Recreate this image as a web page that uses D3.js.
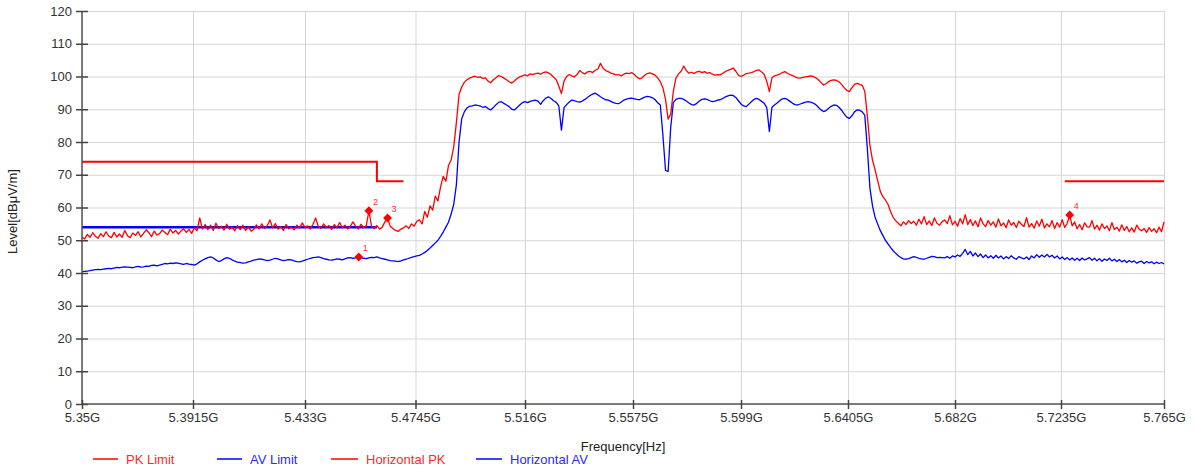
<!DOCTYPE html>
<html>
<head>
<meta charset="utf-8">
<script src="https://cdn.jsdelivr.net/npm/d3@7"></script>
<style>
  html, body { margin: 0; padding: 0; background: #fff; }
  svg { display: block; font-family: "Liberation Sans", Arial, sans-serif; }
</style>
</head>
<body>
<svg id="chart" width="1195" height="468"></svg>
<script>
// ---------------- DATA ----------------
const xTickFreqGHz = [5.35, 5.3915, 5.433, 5.4745, 5.516, 5.5575, 5.599, 5.6405, 5.682, 5.7235, 5.765];
const xTickLabels = ["5.35G", "5.3915G", "5.433G", "5.4745G", "5.516G", "5.5575G", "5.599G", "5.6405G", "5.682G", "5.7235G", "5.765G"];
const yTickValues = [0, 10, 20, 30, 40, 50, 60, 70, 80, 90, 100, 110, 120];

const seriesNames = ["PK Limit", "AV Limit", "Horizontal PK", "Horizontal AV"];
const seriesColors = ["#ff0000", "#0000ff", "#ff0000", "#0000ff"];

// limit lines (null = gap)
const pkLimitFreqGHz = [5.35, 5.46, 5.46, 5.47, null, 5.725, 5.765];
const pkLimitLevel   = [74, 74, 68, 68, null, 68, 68];
const avLimitFreqGHz = [5.35, 5.46];
const avLimitLevel   = [54, 54];

// sweep: 5.350 GHz .. 5.765 GHz, 1 MHz per point
const sweepStartGHz = 5.35;
const sweepStepGHz = 0.001;

const pkLevel = [
  51.0, 50.4, 51.8, 50.9, 52.3, 51.2, 50.6, 52.0, 51.1, 52.6,
  51.3, 50.8, 52.4, 51.0, 51.9, 50.9, 53.0, 51.4, 50.8, 52.2,
  51.5, 52.6, 51.0, 52.1, 53.2, 52.3, 51.1, 52.8, 51.6,
  52.0, 53.1, 52.4, 51.7, 53.4, 52.2, 53.0, 51.9, 52.8, 53.5,
  52.4, 53.3, 52.1, 53.8, 52.9, 56.8, 53.4, 54.8, 53.2, 54.6,
  53.0, 55.2, 53.6, 54.3, 53.1, 54.9, 53.4, 54.0, 52.9, 54.5,
  53.2, 54.6, 53.0, 54.1, 52.8, 53.3, 54.7, 53.5, 55.0,
  53.6, 54.4, 56.2, 53.8, 55.1, 53.4, 54.2, 53.0, 54.8, 53.5,
  54.0, 53.2, 54.6, 53.7, 55.3, 53.9, 54.4, 53.4, 54.9, 56.8,
  54.2, 53.6, 55.0, 53.9, 54.5, 53.3, 54.8, 53.8, 55.4, 53.9,
  54.6, 53.5, 54.2, 55.6, 54.3, 53.4, 54.9, 53.9, 54.4,
  59.0, 54.2, 53.6, 54.5, 53.4, 54.0, 55.6, 56.8, 54.3, 53.6,
  53.0, 52.7, 53.4, 53.8, 54.4, 53.6, 55.0, 54.3, 55.8,
  56.2, 55.0, 58.8, 57.0, 60.5, 59.2, 63.5, 62.0, 66.3, 69.5,
  68.0, 72.8, 74.5, 78.6, 86.0, 94.5, 96.8, 98.2, 99.0, 99.5,
  99.8, 100.1, 99.7, 99.9, 99.4, 99.6, 98.6, 98.1, 99.0, 99.6,
  100.3, 100.0, 99.5, 99.0, 98.4, 98.0, 98.6, 99.4, 99.9, 100.2,
  100.5, 100.2, 100.8, 100.6, 100.9, 101.0, 100.7, 101.2, 101.4, 101.1,
  100.6, 99.8, 99.0, 97.0, 94.8, 98.6, 100.0, 100.6, 100.2, 99.9,
  100.6, 101.8, 101.2, 100.8, 101.4, 101.6, 101.2, 101.9, 102.3, 104.0,
  102.5, 101.8, 101.5, 101.0, 100.8, 100.5, 100.6, 100.2, 100.7, 101.0,
  100.9, 101.2, 100.6, 99.8, 99.3, 99.6, 100.4, 100.9, 101.1, 100.8,
  100.4, 99.5, 98.4, 96.5, 93.0, 87.0, 88.5, 95.5, 99.5, 100.8,
  101.6, 103.2, 101.8, 101.0, 101.3, 100.9, 101.4, 101.6, 101.2, 101.5,
  101.0, 101.2, 100.7, 100.4, 100.6, 100.5, 101.0, 101.5, 101.9, 102.2,
  102.6, 101.6, 100.4, 100.0, 100.4, 100.9, 101.0, 101.2, 101.5, 101.9,
  102.0, 101.4, 100.6, 98.5, 95.4, 99.6, 100.2, 100.4, 100.7, 101.2,
  101.5, 101.0, 100.6, 100.3, 99.9, 99.6, 99.5, 99.7, 99.9, 100.0,
  100.2, 100.0, 99.6, 99.0, 98.2, 97.4, 97.8, 98.5, 98.8, 99.0,
  98.8, 98.4, 97.6, 96.6, 95.8, 95.4, 96.5, 97.6, 97.9, 97.6,
  97.3, 95.5, 88.0, 79.0, 74.5, 71.5, 68.2, 65.0, 63.3, 62.3,
  61.0, 58.8, 57.0, 56.0, 55.2, 54.4, 55.6, 54.8, 56.0, 55.1,
  55.8, 54.6, 56.4, 55.0, 57.2, 54.8, 55.9, 54.5, 56.8, 55.2,
  54.6, 55.7, 56.2, 55.1, 57.5, 54.7, 55.8, 54.3, 56.6, 55.0, 57.8,
  54.8, 56.3, 54.5, 55.9, 54.1, 56.8, 55.0, 54.2, 56.0, 54.6,
  55.6, 54.0, 56.5, 54.4, 55.3, 53.8, 56.2, 54.6, 55.4, 53.9,
  55.8, 54.9, 54.2, 56.9, 54.0, 55.1, 53.7, 55.9, 54.3, 56.4, 53.8,
  55.0, 54.1, 56.0, 53.6, 55.4, 54.0, 56.3, 53.9, 55.2, 57.7,
  54.4, 55.6, 53.5, 54.8, 53.2, 55.3, 54.1, 54.0, 56.0, 53.4, 54.6,
  53.1, 55.0, 53.6, 54.4, 52.9, 55.4, 53.3, 54.0, 52.8, 54.7,
  53.0, 54.2, 52.6, 53.8, 52.5, 54.6, 53.4, 52.9, 53.6, 52.4, 53.9,
  52.7, 53.5, 52.3, 54.0, 52.6, 55.6
];

const avLevel = [
  40.4, 40.5, 40.6, 40.7, 40.9, 41.0, 41.1, 41.0, 41.2, 41.3,
  41.4, 41.3, 41.5, 41.7, 41.6, 41.8, 41.9, 41.8, 41.7, 41.6,
  41.9, 42.0, 41.8, 41.9, 42.1, 42.0, 42.3, 42.4, 42.2,
  42.4, 42.6, 42.9, 42.8, 43.0, 42.9, 43.1, 43.0, 42.8, 42.6,
  42.9, 42.7, 42.6, 42.4, 42.8, 43.4, 43.9, 44.3, 44.7, 44.9,
  44.6, 44.0, 43.5, 43.8, 44.3, 44.7, 44.5, 44.0, 43.6, 43.3,
  43.2, 43.0, 43.1, 43.4, 43.6, 43.9, 44.1, 44.3, 44.2,
  44.0, 43.8, 43.9, 44.2, 44.5, 44.3, 44.0, 43.8, 43.9, 44.1,
  44.0, 43.7, 43.5, 43.4, 43.6, 43.9, 44.2, 44.5, 44.7, 44.8,
  44.9, 44.7, 44.4, 44.2, 44.0, 43.9, 44.1, 44.3, 44.2, 44.0,
  44.3, 44.6, 44.7, 44.5, 44.6, 44.8, 44.7, 44.5, 44.4,
  44.6, 44.8, 44.7, 44.9, 44.6, 44.4, 44.2, 44.0, 43.8, 43.7,
  43.6, 43.5, 43.7, 44.0, 44.2, 44.5, 44.8, 45.0, 45.2,
  45.4, 45.8, 46.3, 46.9, 47.6, 48.4, 49.2, 50.0, 51.2, 52.5,
  54.0, 55.5, 58.0, 61.0, 67.0, 80.0, 87.0, 89.2, 90.4, 90.9,
  91.0, 91.3, 91.2, 91.0, 90.6, 90.8, 90.2, 89.8, 90.5, 91.4,
  92.1, 92.3, 91.8, 91.3, 90.8, 90.0, 89.8, 90.5, 91.3, 92.0,
  92.3, 92.0, 92.4, 92.6, 92.8, 92.5, 91.5, 92.6, 93.4, 93.8,
  93.3, 92.6, 92.1, 91.0, 83.6, 90.5, 91.4, 92.2, 92.8, 92.6,
  92.3, 92.2, 92.5, 93.0, 93.6, 94.2, 94.6, 94.9, 94.4, 93.8,
  93.3, 92.9, 92.8, 92.4, 92.0, 91.8, 91.7, 92.2, 92.8, 93.1,
  93.3, 93.4, 93.2, 93.0, 92.9, 93.3, 93.7, 93.9, 93.8, 93.5,
  92.9, 92.0, 91.3, 82.0, 71.3, 71.0, 84.5, 92.0, 93.0, 93.3,
  93.3, 93.0, 92.5, 91.9, 91.4, 91.3, 91.8, 92.5, 93.0, 93.2,
  93.0, 92.6, 92.3, 92.5, 92.8, 92.9, 93.3, 93.8, 94.1, 94.3,
  94.2, 93.6, 92.6, 91.6, 91.0, 90.8, 91.5, 92.3, 93.0, 93.3,
  93.0, 92.4, 91.8, 90.5, 83.2, 90.6, 91.3, 91.9, 92.6, 93.2,
  93.3, 93.0, 92.4, 91.8, 91.4, 91.3, 91.6, 91.9, 92.2, 92.3,
  92.2, 91.9, 91.4, 90.6, 89.8, 89.3, 89.6, 90.3, 90.9, 91.3,
  91.2, 90.6, 89.7, 88.6, 87.6, 87.2, 88.0, 89.2, 89.8, 89.7,
  89.2, 88.2, 78.0, 66.0, 60.5, 57.0, 55.0, 53.0, 51.5, 50.0,
  48.9, 47.8, 46.8, 46.0, 45.3, 44.7, 44.3, 44.2, 44.4, 44.7,
  45.0, 44.8, 44.5, 44.3, 44.2, 44.5, 44.8, 45.1, 45.0, 44.7,
  44.8, 44.7, 44.6, 45.0, 44.5, 45.2, 44.9, 45.5, 45.1, 46.0, 47.2,
  45.6, 46.6, 45.2, 46.1, 45.0, 45.8, 44.7, 45.5, 44.6, 45.3,
  44.5, 45.4, 44.6, 45.2, 44.3, 45.0, 44.4, 45.3, 44.6, 44.2,
  45.0, 44.6, 44.3, 44.9, 44.1, 45.2, 44.6, 45.6, 44.8, 45.5, 44.9,
  45.7, 44.9, 45.4, 44.6, 45.2, 44.3, 44.9, 44.1, 44.7, 44.0,
  44.6, 43.9, 44.5, 43.8, 44.6, 44.0, 44.3, 44.7, 43.9, 44.5, 43.7,
  44.4, 43.6, 44.3, 43.8, 44.5, 43.7, 44.2, 43.5, 44.1, 43.4,
  43.9, 43.2, 43.8, 43.3, 43.7, 43.0, 43.4, 43.6, 42.9, 43.5, 43.1,
  43.4, 42.8, 43.3, 42.9, 43.2, 42.8
];

// markers
const markerIds      = ["1", "2", "3", "4"];
const markerFreqGHz  = [5.4532, 5.457, 5.464, 5.727];
const markerLevel    = [44.9, 59.0, 56.8, 57.7];

// ---------------- LAYOUT ----------------
const svg = d3.select("#chart");
const plot = { left: 82, right: 1164, top: 11, bottom: 404 };
// axis tick positions of the original chart (its frequency axis is slightly non-uniform)
const xTickPx = [82, 193, 305, 415.5, 525, 633, 741, 848, 955, 1061, 1164];

const x = d3.scaleLinear().domain(xTickFreqGHz).range(xTickPx);
const y = d3.scaleLinear().domain([0, 120]).range([plot.bottom, plot.top]);

const freqGHz = pkLevel.map((_, i) => +(sweepStartGHz + i * sweepStepGHz).toFixed(3));

// grid
const grid = svg.append("g");
grid.append("g")
  .attr("transform", `translate(0,${plot.bottom})`)
  .call(d3.axisBottom(x).tickValues(xTickFreqGHz).tickSize(-(plot.bottom - plot.top)).tickFormat(""))
  .call(g => g.select(".domain").remove())
  .call(g => g.selectAll("line").attr("stroke", "#d6d6d6").attr("stroke-width", 1));
grid.append("g")
  .attr("transform", `translate(${plot.left},0)`)
  .call(d3.axisLeft(y).tickValues(yTickValues).tickSize(-(plot.right - plot.left)).tickFormat(""))
  .call(g => g.select(".domain").remove())
  .call(g => g.selectAll("line").attr("stroke", "#d6d6d6").attr("stroke-width", 1));

// lines
const line = d3.line()
  .defined(d => d[0] !== null && d[1] !== null)
  .x(d => x(d[0])).y(d => y(d[1]));

const pkLimitPts = pkLimitFreqGHz.map((f, i) => [f, pkLimitLevel[i]]);
const avLimitPts = avLimitFreqGHz.map((f, i) => [f, avLimitLevel[i]]);
const pkPts = freqGHz.map((f, i) => [f, pkLevel[i]]);
const avPts = freqGHz.map((f, i) => [f, avLevel[i]]);

svg.append("path").attr("d", line(pkLimitPts)).attr("fill", "none")
  .attr("stroke", seriesColors[0]).attr("stroke-width", 2);
svg.append("path").attr("d", line(avLimitPts)).attr("fill", "none")
  .attr("stroke", seriesColors[1]).attr("stroke-width", 2.5);
svg.append("path").attr("d", line(pkPts)).attr("fill", "none")
  .attr("stroke", seriesColors[2]).attr("stroke-width", 1.3).attr("stroke-linejoin", "round");
svg.append("path").attr("d", line(avPts)).attr("fill", "none")
  .attr("stroke", seriesColors[3]).attr("stroke-width", 1.3).attr("stroke-linejoin", "round");

// markers
const mk = svg.append("g");
markerIds.forEach((id, i) => {
  const mx = x(markerFreqGHz[i]), my = y(markerLevel[i]);
  mk.append("path")
    .attr("d", d3.symbol(d3.symbolDiamond2, 50)())
    .attr("transform", `translate(${mx},${my})`)
    .attr("fill", "#ff0000");
  mk.append("text")
    .attr("x", mx + 4).attr("y", my - 6)
    .attr("font-size", 9).attr("fill", "#ff3030")
    .text(id);
});

// axes
const yAxis = svg.append("g")
  .attr("transform", `translate(${plot.left},0)`)
  .call(d3.axisLeft(y).tickValues(yTickValues).tickSize(6).tickPadding(4));
yAxis.selectAll(".tick line").attr("x1", 6);
const xAxis = svg.append("g")
  .attr("transform", `translate(0,${plot.bottom})`)
  .call(d3.axisBottom(x).tickValues(xTickFreqGHz).tickSize(5).tickPadding(4)
    .tickFormat((d, i) => xTickLabels[i]));
xAxis.selectAll(".tick line").attr("y1", -4);

[yAxis, xAxis].forEach(a => {
  a.select(".domain").attr("stroke", "#555").attr("stroke-width", 1.5);
  a.selectAll(".tick line").attr("stroke", "#444").attr("stroke-width", 1.5);
  a.selectAll(".tick text").attr("font-size", 13).attr("fill", "#333")
    .attr("font-family", '"Liberation Sans", Arial, sans-serif');
});
yAxis.select(".domain").attr("d", `M0,${plot.bottom}V${plot.top}`);
xAxis.select(".domain").attr("d", `M${plot.left},0H${plot.right}`);

// axis titles
svg.append("text")
  .attr("transform", `translate(17,${(plot.top + plot.bottom) / 2 + 4}) rotate(-90)`)
  .attr("text-anchor", "middle").attr("font-size", 13).attr("fill", "#222")
  .text("Level[dBμV/m]");
svg.append("text")
  .attr("x", 623).attr("y", 451)
  .attr("text-anchor", "middle").attr("font-size", 13).attr("fill", "#222")
  .text("Frequency[Hz]");

// legend
const legendX = [93, 217, 331, 476];
const legendLen = [25, 25, 27, 26];
const lg = svg.append("g");
seriesNames.forEach((name, i) => {
  lg.append("line")
    .attr("x1", legendX[i]).attr("x2", legendX[i] + legendLen[i])
    .attr("y1", 459).attr("y2", 459)
    .attr("stroke", seriesColors[i]).attr("stroke-width", 1.5);
  lg.append("text")
    .attr("x", legendX[i] + legendLen[i] + 8).attr("y", 463.5)
    .attr("font-size", 13).attr("fill", i % 2 === 0 ? "#ff2a2a" : "#2a2aff")
    .text(name);
});
</script>
</body>
</html>
